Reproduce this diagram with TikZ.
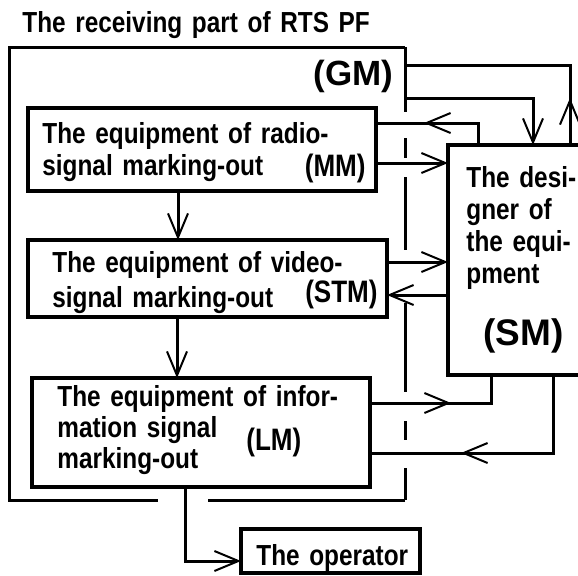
\documentclass[tikz,border=0pt]{standalone}
\usepackage{fontspec}
\usepackage{tikz}
\usetikzlibrary{arrows.meta, decorations.markings, positioning}
\newfontfamily\narrowbf[FakeStretch=0.84]{Liberation Sans}
\newfontfamily\widebf{Liberation Sans}

\begin{document}
\begin{tikzpicture}[
    x=0.5pt, y=-0.5pt,
    unit/.style={rectangle, draw, line width=1.6pt, inner sep=0pt, outer sep=0pt, anchor=north west},
    bodytext/.style={inner sep=0pt, anchor=base west, align=left, text width=170pt, font=\narrowbf\bfseries\fontsize{14.5}{16}\selectfont},
    abbr/.style={inner sep=0pt, font=\narrowbf\bfseries\fontsize{15.5}{18}\selectfont},
    bigabbr/.style={inner sep=0pt, font=\widebf\bfseries\fontsize{17.5}{20}\selectfont},
    link/.style={line width=1.5pt},
    endarrow/.style={-{Straight Barb[length=12pt, width=10pt, line width=1pt]}},
    midarrow/.style={postaction={decorate}, decoration={markings, mark=at position #1 with {\arrow{Straight Barb[length=12pt, width=10pt, line width=1pt]}}}}
]
    \useasboundingbox (0,0) rectangle (578,575);

    % receiving part (GM) and its units
    \node[bodytext, text width=200pt] (title) at (22,32) {The receiving part of RTS PF};
    \node[rectangle, inner sep=0pt, outer sep=0pt, anchor=north west, minimum width=198pt, minimum height=226.5pt] (gm) at (9,47) {};
    \node[bigabbr, anchor=base east] (gmtag) at (394,85) {(GM)};

    \node[unit, minimum width=174pt, minimum height=41.5pt] (mm) at (28,108) {};
    \node[bodytext] (mmtext) at (42,143) {The equipment of radio-\\signal marking-out};
    \node[abbr, anchor=base east] (mmtag) at (366,176) {(MM)};

    \node[unit, minimum width=179.5pt, minimum height=38.5pt] (stm) at (28,240) {};
    \node[bodytext, font=\narrowbf\bfseries\fontsize{14.5}{17.5}\selectfont] (stmtext) at (52,272) {The equipment of video-\\signal marking-out};
    \node[abbr, anchor=base east] (stmtag) at (378,302) {(STM)};

    \node[unit, minimum width=169pt, minimum height=54.5pt] (lm) at (32,378) {};
    \node[bodytext, font=\narrowbf\bfseries\fontsize{14.5}{15.5}\selectfont] (lmtext) at (57,406) {The equipment of infor-\\mation signal\\marking-out};
    \node[abbr, anchor=base west] (lmtag) at (246,450) {(LM)};

    % designer and operator
    \node[unit, minimum width=67pt, minimum height=115pt] (sm) at (448,145) {};
    \node[bodytext, text width=60pt] (smtext) at (466,187) {The desi-\\gner of\\the equi-\\pment};
    \node[bigabbr, anchor=base west, font=\widebf\bfseries\fontsize{18.5}{20}\selectfont] (smtag) at (483,345) {(SM)};

    \node[unit, minimum width=89.5pt, minimum height=22pt] (op) at (241,529) {};
    \node[bodytext, text width=80pt] (optext) at (256,565) {The operator};

    % GM frame
    \draw[link] (gm.north east) -- (gm.north west) -- (gm.south west) -- ++(149,0);
    \draw[link] (gm.south east) -- ++(-197,0);
    \draw[link, dash pattern=on 32.5pt off 13pt on 10pt off 9.5pt on 36.5pt off 26.5pt on 44.5pt off 14.5pt on 9.5pt off 14pt on 20pt off 1pt] (gm.north east) -- (gm.south east);

    % connectors
    \draw[link, midarrow=23.5pt] (sm.north -| 570,0) |- (gm.east |- 0,65);
    \draw[link, endarrow] (gm.east |- 0,98) -| (sm.north -| 533,0);
    \draw[link, midarrow=38pt] (sm.north -| 478,0) |- (mm.east |- 0,123);
    \draw[link, endarrow] (mm.east |- 0,163) -- (sm.west |- 0,163);
    \draw[link, endarrow] (stm.east |- 0,262) -- (sm.west |- 0,262);
    \draw[link, endarrow] (sm.west |- 0,295) -- (stm.east |- 0,295);
    \draw[link, midarrow=40.5pt] (lm.east |- 0,403) -| (sm.south -| 491,0);
    \draw[link, midarrow=85pt] (sm.south -| 553,0) |- (lm.east |- 0,453);
    \draw[link, endarrow] (mm.south -| 178,0) -- (stm.north -| 178,0);
    \draw[link, endarrow] (stm.south -| 177,0) -- (lm.north -| 177,0);
    \draw[link, endarrow] (lm.south -| 185,0) |- (op.west |- 0,561);
\end{tikzpicture}
\end{document}
